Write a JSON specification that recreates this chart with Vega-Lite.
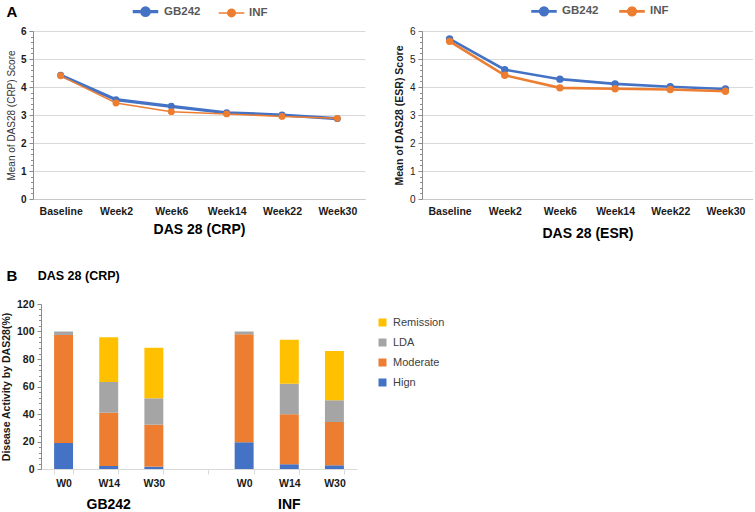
{
  "$schema": "https://vega.github.io/schema/vega-lite/v6.json",
  "padding": {"left": 1, "top": 2, "right": 0, "bottom": 0},
  "background": "white",
  "config": {
    "view": {"stroke": null},
    "font": "Liberation Sans",
    "axis": {"labelFont": "Liberation Sans", "titleFont": "Liberation Sans", "labelColor": "#1a1a1a", "titleColor": "#1a1a1a"},
    "legend": {"labelFont": "Liberation Sans"}
  },
  "datasets": {
    "crp": [
      {"week": "Baseline", "group": "GB242", "score": 4.42},
      {"week": "Week2", "group": "GB242", "score": 3.55},
      {"week": "Week6", "group": "GB242", "score": 3.31},
      {"week": "Week14", "group": "GB242", "score": 3.08},
      {"week": "Week22", "group": "GB242", "score": 3.0},
      {"week": "Week30", "group": "GB242", "score": 2.87},
      {"week": "Baseline", "group": "INF", "score": 4.4},
      {"week": "Week2", "group": "INF", "score": 3.43},
      {"week": "Week6", "group": "INF", "score": 3.12},
      {"week": "Week14", "group": "INF", "score": 3.04},
      {"week": "Week22", "group": "INF", "score": 2.95},
      {"week": "Week30", "group": "INF", "score": 2.88}
    ],
    "esr": [
      {"week": "Baseline", "group": "GB242", "score": 5.72},
      {"week": "Week2", "group": "GB242", "score": 4.62},
      {"week": "Week6", "group": "GB242", "score": 4.28},
      {"week": "Week14", "group": "GB242", "score": 4.11},
      {"week": "Week22", "group": "GB242", "score": 4.01},
      {"week": "Week30", "group": "GB242", "score": 3.93},
      {"week": "Baseline", "group": "INF", "score": 5.63},
      {"week": "Week2", "group": "INF", "score": 4.42},
      {"week": "Week6", "group": "INF", "score": 3.97},
      {"week": "Week14", "group": "INF", "score": 3.94},
      {"week": "Week22", "group": "INF", "score": 3.91},
      {"week": "Week30", "group": "INF", "score": 3.85}
    ],
    "bars": [
      {"key": "GB242 W0", "cat": "Hign", "rank": 1, "pct": 19},
      {"key": "GB242 W0", "cat": "Moderate", "rank": 2, "pct": 78.5},
      {"key": "GB242 W0", "cat": "LDA", "rank": 3, "pct": 2.5},
      {"key": "GB242 W0", "cat": "Remission", "rank": 4, "pct": 0},
      {"key": "GB242 W14", "cat": "Hign", "rank": 1, "pct": 2.2},
      {"key": "GB242 W14", "cat": "Moderate", "rank": 2, "pct": 38.8},
      {"key": "GB242 W14", "cat": "LDA", "rank": 3, "pct": 22.3},
      {"key": "GB242 W14", "cat": "Remission", "rank": 4, "pct": 32.5},
      {"key": "GB242 W30", "cat": "Hign", "rank": 1, "pct": 1.7},
      {"key": "GB242 W30", "cat": "Moderate", "rank": 2, "pct": 30.5},
      {"key": "GB242 W30", "cat": "LDA", "rank": 3, "pct": 19.2},
      {"key": "GB242 W30", "cat": "Remission", "rank": 4, "pct": 36.8},
      {"key": "INF W0", "cat": "Hign", "rank": 1, "pct": 19.4},
      {"key": "INF W0", "cat": "Moderate", "rank": 2, "pct": 78.6},
      {"key": "INF W0", "cat": "LDA", "rank": 3, "pct": 2},
      {"key": "INF W0", "cat": "Remission", "rank": 4, "pct": 0},
      {"key": "INF W14", "cat": "Hign", "rank": 1, "pct": 3.4},
      {"key": "INF W14", "cat": "Moderate", "rank": 2, "pct": 36.4},
      {"key": "INF W14", "cat": "LDA", "rank": 3, "pct": 22.2},
      {"key": "INF W14", "cat": "Remission", "rank": 4, "pct": 32},
      {"key": "INF W30", "cat": "Hign", "rank": 1, "pct": 2.7},
      {"key": "INF W30", "cat": "Moderate", "rank": 2, "pct": 31.5},
      {"key": "INF W30", "cat": "LDA", "rank": 3, "pct": 15.8},
      {"key": "INF W30", "cat": "Remission", "rank": 4, "pct": 35.8}
    ]
  },
  "spacing": 273,
  "bounds": "flush",
  "resolve": {"scale": {"color": "independent", "strokeWidth": "independent"}, "legend": {"color": "independent"}},
  "vconcat": [
    {
      "spacing": 57,
      "bounds": "flush",
      "resolve": {"scale": {"color": "independent", "strokeWidth": "independent"}, "legend": {"color": "independent"}},
      "hconcat": [
        {
          "width": 332,
          "height": 168,
          "title": {"text": "A", "anchor": "start", "frame": "bounds", "fontSize": 15, "fontWeight": "bold", "font": "Liberation Sans", "color": "#000", "dx": 0, "dy": 18, "offset": 0},
          "data": {"name": "crp"},
          "resolve": {"axis": {"y": "independent"}},
          "layer": [
            {
              "mark": {"type": "line"},
              "encoding": {
                "x": {"field": "week", "type": "ordinal", "sort": null, "scale": {"type": "point", "padding": 0.5},
                  "axis": {"title": "DAS 28 (CRP)", "labelAngle": 0, "ticks": false, "domainColor": "#c8c8c8", "labelFontWeight": "bold", "labelFontSize": 10.5, "labelPadding": 7, "titleFontSize": 14, "titleFontWeight": "bold", "titlePadding": 6, "titleColor": "#000"}},
                "y": {"field": "score", "type": "quantitative", "scale": {"domain": [0, 6]},
                  "axis": {"title": "Mean of DAS28 (CRP) Score", "orient": "left", "values": [0, 1, 2, 3, 4, 5, 6], "grid": true, "gridColor": "#d9d9d9", "domainColor": "#8c8c8c", "tickColor": "#8c8c8c", "tickSize": 4, "labelFontSize": 10, "labelFontWeight": "bold", "labelPadding": 3, "titleFontSize": 10, "titleFontWeight": "normal", "titleColor": "#333", "titlePadding": 4}},
                "color": {"field": "group", "type": "nominal", "scale": {"domain": ["GB242", "INF"], "range": ["#4472C4", "#ED7D31"]},
                  "legend": {"title": null, "orient": "none", "direction": "horizontal", "legendX": 103, "legendY": -29,
                    "symbolType": "M-1.7,0H1.7M-0.5,0a0.5,0.5 0 1,0 1,0a0.5,0.5 0 1,0 -1,0", "symbolSize": 225, "symbolStrokeWidth": 2.5,
                    "labelFontSize": 11.5, "labelFontWeight": "bold", "labelColor": "#595959", "labelOffset": 9, "columnPadding": 14,
                    "encode": {"symbols": {"update": {"fill": {"scale": "color", "field": "value"}, "strokeWidth": {"signal": "datum.value == 'GB242' ? 3 : 1.5"}}}}}},
                "strokeWidth": {"field": "group", "type": "nominal", "scale": {"domain": ["GB242", "INF"], "range": [3.2, 1.5]}, "legend": null}
              }
            },
            {
              "mark": {"type": "point", "filled": true, "opacity": 1, "size": 48},
              "encoding": {
                "x": {"field": "week", "type": "ordinal", "sort": null},
                "y": {"field": "score", "type": "quantitative",
                  "axis": {"title": null, "orient": "left", "labels": false, "grid": false, "domain": false, "values": [0.2,0.4,0.6,0.8,1.2,1.4,1.6,1.8,2.2,2.4,2.6,2.8,3.2,3.4,3.6,3.8,4.2,4.4,4.6,4.8,5.2,5.4,5.6,5.8], "tickSize": 2.5, "tickColor": "#8c8c8c"}},
                "color": {"field": "group", "type": "nominal", "legend": null}
              }
            }
          ]
        },
        {
          "width": 331,
          "height": 168,
          "data": {"name": "esr"},
          "resolve": {"axis": {"y": "independent"}},
          "layer": [
            {
              "mark": {"type": "line", "strokeWidth": 2.6},
              "encoding": {
                "x": {"field": "week", "type": "ordinal", "sort": null, "scale": {"type": "point", "padding": 0.5},
                  "axis": {"title": "DAS 28 (ESR)", "labelAngle": 0, "ticks": false, "domainColor": "#c8c8c8", "labelFontWeight": "bold", "labelFontSize": 10.5, "labelPadding": 7, "titleFontSize": 14, "titleFontWeight": "bold", "titlePadding": 10, "titleColor": "#000"}},
                "y": {"field": "score", "type": "quantitative", "scale": {"domain": [0, 6]},
                  "axis": {"title": "Mean of DAS28 (ESR) Score", "orient": "left", "values": [0, 1, 2, 3, 4, 5, 6], "grid": true, "gridColor": "#d9d9d9", "domainColor": "#8c8c8c", "tickColor": "#8c8c8c", "tickSize": 4, "labelFontSize": 10, "labelPadding": 3, "titleFontSize": 10.5, "titleFontWeight": "bold", "titleColor": "#1a1a1a", "titlePadding": 5}},
                "color": {"field": "group", "type": "nominal", "scale": {"domain": ["GB242", "INF"], "range": ["#4472C4", "#ED7D31"]},
                  "legend": {"title": null, "orient": "none", "direction": "horizontal", "legendX": 113, "legendY": -29,
                    "symbolType": "M-1.7,0H1.7M-0.5,0a0.5,0.5 0 1,0 1,0a0.5,0.5 0 1,0 -1,0", "symbolSize": 225, "symbolStrokeWidth": 2.8,
                    "labelFontSize": 11.5, "labelFontWeight": "bold", "labelColor": "#595959", "labelOffset": 9, "columnPadding": 14,
                    "encode": {"symbols": {"update": {"fill": {"scale": "color", "field": "value"}}}}}}
              }
            },
            {
              "mark": {"type": "point", "filled": true, "opacity": 1, "size": 55},
              "encoding": {
                "x": {"field": "week", "type": "ordinal", "sort": null},
                "y": {"field": "score", "type": "quantitative",
                  "axis": {"title": null, "orient": "left", "labels": false, "grid": false, "domain": false, "values": [0.2,0.4,0.6,0.8,1.2,1.4,1.6,1.8,2.2,2.4,2.6,2.8,3.2,3.4,3.6,3.8,4.2,4.4,4.6,4.8,5.2,5.4,5.6,5.8], "tickSize": 2.5, "tickColor": "#8c8c8c"}},
                "color": {"field": "group", "type": "nominal", "legend": null}
              }
            }
          ]
        }
      ]
    },
    {
      "spacing": 7,
      "bounds": "flush",
      "hconcat": [
        {"width": 1, "height": 165, "data": {"values": []}, "mark": "point", "encoding": {}},
        {
          "width": 316,
          "height": 165,
          "title": {"text": "B", "subtitle": "\u200b\u00a0\u00a0\u00a0\u00a0\u00a0\u00a0\u00a0\u00a0\u00a0DAS 28 (CRP)", "anchor": "start", "frame": "bounds", "fontSize": 15, "fontWeight": "bold", "font": "Liberation Sans", "color": "#000",
            "subtitleFont": "Liberation Sans", "subtitleFontSize": 12.5, "subtitleFontWeight": "bold", "subtitleColor": "#000", "subtitlePadding": -14, "dx": 5, "offset": 15},
          "data": {"name": "bars"},
          "resolve": {"axis": {"x": "independent", "y": "independent"}},
          "layer": [
            {
              "mark": {"type": "bar"},
              "encoding": {
                "x": {"field": "key", "type": "nominal", "sort": null,
                  "scale": {"domain": ["GB242 W0", "GB242 W14", "GB242 W30", "gap", "INF W0", "INF W14", "INF W30"], "paddingInner": 0.58, "paddingOuter": 0.29},
                  "axis": {"title": null, "orient": "bottom", "labelAngle": 0, "tickBand": "extent", "labelExpr": "datum.value == 'gap' ? '' : split(datum.value, ' ')[1]", "domainColor": "#d9d9d9", "tickColor": "#d9d9d9", "tickSize": 5, "labelFontSize": 10.5, "labelFontWeight": "bold", "labelPadding": 4}},
                "y": {"field": "pct", "type": "quantitative", "stack": "zero", "scale": {"domain": [0, 120]},
                  "axis": {"title": "Disease Activity by DAS28(%)", "orient": "left", "values": [0, 20, 40, 60, 80, 100, 120], "grid": false, "domainColor": "#8c8c8c", "tickColor": "#8c8c8c", "tickSize": 4, "labelFontSize": 10.5, "labelFontWeight": "bold", "labelPadding": 3, "titleFontSize": 10.5, "titleFontWeight": "bold", "titlePadding": 5}},
                "color": {"field": "cat", "type": "nominal",
                  "scale": {"domain": ["Remission", "LDA", "Moderate", "Hign"], "range": ["#FFC000", "#A5A5A5", "#ED7D31", "#4472C4"]},
                  "legend": {"title": null, "orient": "none", "legendX": 344, "legendY": 13, "symbolType": "square", "symbolSize": 64, "labelFontSize": 11, "labelColor": "#404040", "rowPadding": 8, "labelOffset": 5}},
                "order": {"field": "rank", "type": "quantitative"}
              }
            },
            {
              "mark": {"type": "bar", "opacity": 0},
              "encoding": {
                "x": {"field": "key", "type": "nominal", "sort": null,
                  "axis": {"title": null, "orient": "bottom", "labelAngle": 0, "domain": false, "ticks": false, "labelExpr": "datum.value == 'GB242 W14' ? 'GB242' : datum.value == 'INF W14' ? 'INF' : ''", "labelFontSize": 14, "labelFontWeight": "bold", "labelPadding": 28, "labelColor": "#000"}},
                "y": {"field": "pct", "type": "quantitative", "stack": "zero",
                  "axis": {"title": null, "orient": "left", "labels": false, "grid": false, "domain": false, "values": [4,8,12,16,24,28,32,36,44,48,52,56,64,68,72,76,84,88,92,96,104,108,112,116], "tickSize": 2.5, "tickColor": "#8c8c8c"}},
                "order": {"field": "rank", "type": "quantitative"}
              }
            }
          ]
        }
      ]
    }
  ]
}
